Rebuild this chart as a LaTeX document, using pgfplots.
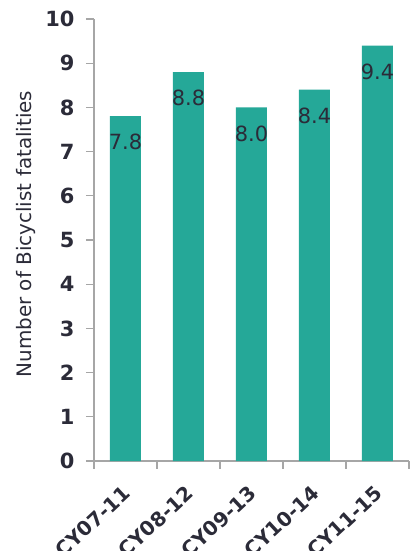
\documentclass[border=0pt]{standalone}
\usepackage{pgfplots}
\pgfplotsset{compat=1.18}
\usepackage{fontspec}
\setmainfont{DejaVu Sans}
\definecolor{barc}{HTML}{25A898}
\definecolor{txt}{HTML}{2B2B38}
\definecolor{axc}{HTML}{A6A6A6}
\begin{document}
\begin{tikzpicture}
\begin{axis}[
  scale only axis,
  width=315bp, height=442bp,
  xmin=-0.5, xmax=4.5, ymin=0, ymax=10,
  axis x line*=bottom, axis y line*=left,
  axis line style={axc, line width=1.3pt},
  ytick={0,...,10},
  xtick={0,...,4},
  xticklabels={CY07-11,CY08-12,CY09-13,CY10-14,CY11-15},
  minor xtick={-0.5,0.5,...,4.5},
  major x tick style={draw=none},
  minor x tick style={axc, line width=1.3pt},
  y tick style={axc, line width=1.3pt},
  tick align=outside,
  major tick length=8bp, minor tick length=8bp,
  /pgf/number format/assume math mode=true,
  yticklabel style={font=\fontsize{21}{24}\selectfont\bfseries, text=txt, xshift=-8bp},
  xticklabel style={font=\fontsize{20}{22}\selectfont\bfseries, text=txt, xshift=-4bp, yshift=-15bp, rotate=43, anchor=north east, inner sep=0pt},
  ylabel={Number of Bicyclist fatalities},
  ylabel style={font=\fontsize{20}{22}\selectfont, text=txt, xshift=6bp},
  ylabel shift=3bp,
  ybar, bar width=31bp,
  nodes near coords,
  nodes near coords style={font=\fontsize{21}{24}\selectfont, text=txt, anchor=center, yshift=-26bp, /pgf/number format/.cd, fixed, fixed zerofill, precision=1},
  point meta=y,
  clip=false,
]
\addplot[fill=barc, draw=none] coordinates {(0,7.8) (1,8.8) (2,8.0) (3,8.4) (4,9.4)};
\coordinate (O) at (rel axis cs:0,0);
\coordinate (T) at (rel axis cs:1,1);
\end{axis}
\pgfresetboundingbox
\path ([xshift=-94bp,yshift=-90bp]O) rectangle ([xshift=3bp,yshift=19bp]T);
\end{tikzpicture}
\end{document}
